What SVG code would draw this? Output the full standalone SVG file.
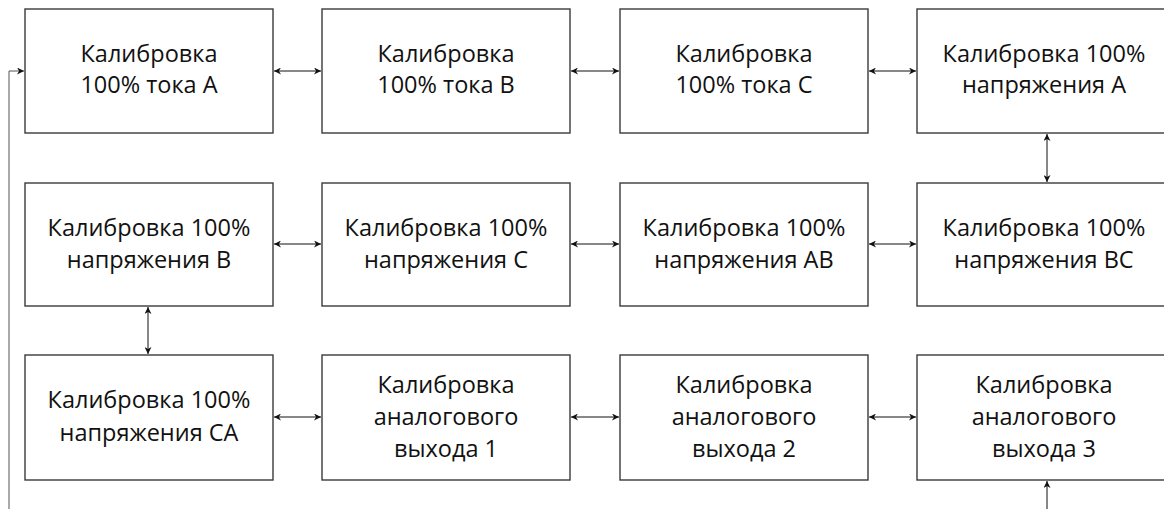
<svg xmlns="http://www.w3.org/2000/svg" width="1164" height="509" viewBox="0 0 1164 509">
<style>
.box{fill:#fff;stroke:#3a3a3a;stroke-width:1.4}
.t{font-family:"Open Sans","Noto Sans",sans-serif;font-size:23.5px;fill:#111;text-anchor:middle}
.c{stroke:#111;stroke-width:1;fill:none}
</style>
<defs>
<marker id="a" viewBox="0 0 10 10" refX="10" refY="5" markerWidth="7" markerHeight="7" orient="auto-start-reverse" markerUnits="userSpaceOnUse">
<path d="M0,0 L10,5 L0,10 L3,5 Z" fill="#111"/>
</marker>
</defs>
<rect width="1164" height="509" fill="#fff"/>
<g id="connectors">
<line class="c" x1="274" y1="71" x2="321" y2="71" marker-start="url(#a)" marker-end="url(#a)"/>
<line class="c" x1="571" y1="71" x2="619" y2="71" marker-start="url(#a)" marker-end="url(#a)"/>
<line class="c" x1="869" y1="71" x2="916" y2="71" marker-start="url(#a)" marker-end="url(#a)"/>
<line class="c" x1="1047" y1="134" x2="1047" y2="182" marker-start="url(#a)" marker-end="url(#a)"/>
<line class="c" x1="274" y1="244" x2="321" y2="244" marker-start="url(#a)" marker-end="url(#a)"/>
<line class="c" x1="571" y1="244" x2="619" y2="244" marker-start="url(#a)" marker-end="url(#a)"/>
<line class="c" x1="869" y1="244" x2="916" y2="244" marker-start="url(#a)" marker-end="url(#a)"/>
<line class="c" x1="148" y1="307" x2="148" y2="354" marker-start="url(#a)" marker-end="url(#a)"/>
<line class="c" x1="274" y1="417" x2="321" y2="417" marker-start="url(#a)" marker-end="url(#a)"/>
<line class="c" x1="571" y1="417" x2="619" y2="417" marker-start="url(#a)" marker-end="url(#a)"/>
<line class="c" x1="869" y1="417" x2="916" y2="417" marker-start="url(#a)" marker-end="url(#a)"/>
<line class="c" x1="1047" y1="515" x2="1047" y2="481" marker-end="url(#a)"/>
<polyline class="c" points="9,515 9,71 24,71" marker-end="url(#a)" style="stroke:#555"/>
</g>
<g id="n1"><rect class="box" x="25" y="9" width="248" height="124"/><text class="t" x="149" y="62">Калибровка</text><text class="t" x="149" y="93">100% тока A</text></g>
<g id="n2"><rect class="box" x="322" y="9" width="248" height="124"/><text class="t" x="446" y="62">Калибровка</text><text class="t" x="446" y="93">100% тока B</text></g>
<g id="n3"><rect class="box" x="620" y="9" width="248" height="124"/><text class="t" x="744" y="62">Калибровка</text><text class="t" x="744" y="93">100% тока C</text></g>
<g id="n4"><rect class="box" x="917" y="9" width="250" height="124"/><text class="t" x="1044" y="62">Калибровка 100%</text><text class="t" x="1044" y="93">напряжения A</text></g>
<g id="n5"><rect class="box" x="25" y="183" width="248" height="123"/><text class="t" x="149" y="236">Калибровка 100%</text><text class="t" x="149" y="268">напряжения B</text></g>
<g id="n6"><rect class="box" x="322" y="183" width="248" height="123"/><text class="t" x="446" y="236">Калибровка 100%</text><text class="t" x="446" y="268">напряжения C</text></g>
<g id="n7"><rect class="box" x="620" y="183" width="248" height="123"/><text class="t" x="744" y="236">Калибровка 100%</text><text class="t" x="744" y="268">напряжения AB</text></g>
<g id="n8"><rect class="box" x="917" y="183" width="250" height="123"/><text class="t" x="1044" y="236">Калибровка 100%</text><text class="t" x="1044" y="268">напряжения BC</text></g>
<g id="n9"><rect class="box" x="25" y="355" width="248" height="125"/><text class="t" x="149" y="408">Калибровка 100%</text><text class="t" x="149" y="441">напряжения CA</text></g>
<g id="n10"><rect class="box" x="322" y="355" width="248" height="125"/><text class="t" x="446" y="393">Калибровка</text><text class="t" x="446" y="425">аналогового</text><text class="t" x="446" y="457">выхода 1</text></g>
<g id="n11"><rect class="box" x="620" y="355" width="248" height="125"/><text class="t" x="744" y="393">Калибровка</text><text class="t" x="744" y="425">аналогового</text><text class="t" x="744" y="457">выхода 2</text></g>
<g id="n12"><rect class="box" x="917" y="355" width="250" height="125"/><text class="t" x="1044" y="393">Калибровка</text><text class="t" x="1044" y="425">аналогового</text><text class="t" x="1044" y="457">выхода 3</text></g>
</svg>
